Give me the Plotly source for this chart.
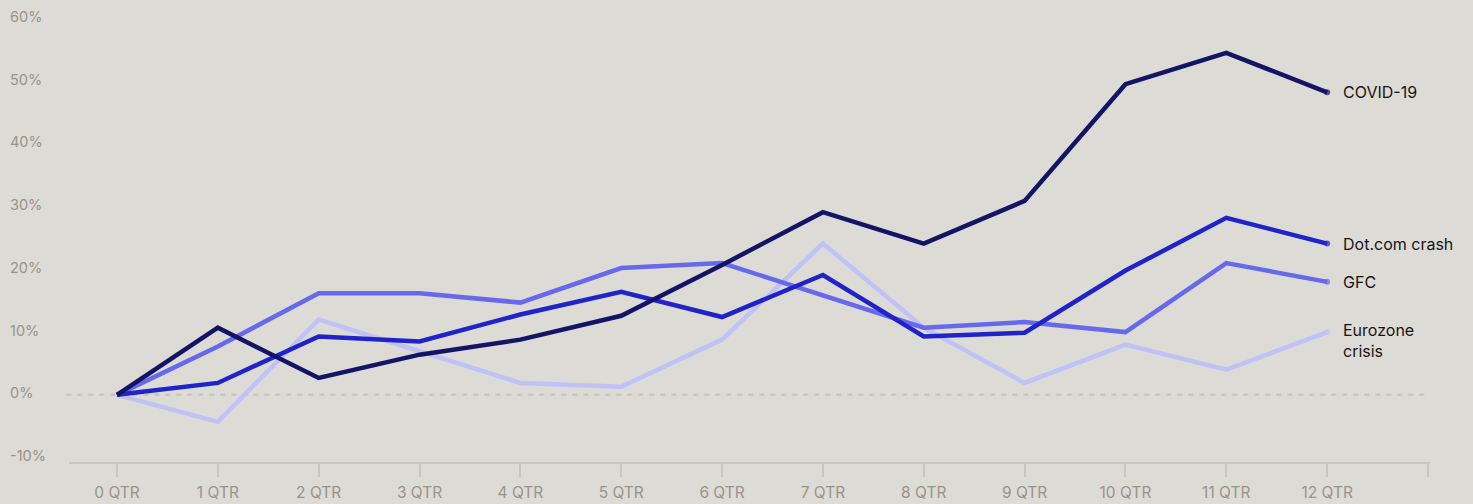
import plotly.graph_objects as go

# Cumulative return after each quarter following a market crisis (%)
quarters = list(range(13))
quarter_labels = [f"{q} QTR" for q in quarters]

covid = [0, 10.7, 2.7, 6.4, 8.8, 12.6, 20.7, 29.1, 24.1, 30.9, 49.5, 54.5, 48.2]
dotcom = [0, 1.9, 9.3, 8.5, 12.8, 16.4, 12.4, 19.1, 9.3, 9.9, 19.8, 28.2, 24.1]
gfc = [0, 7.7, 16.2, 16.2, 14.7, 20.2, 21.0, 15.9, 10.7, 11.6, 10.0, 21.0, 18.0]
eurozone = [0, -4.3, 12.0, 6.9, 1.9, 1.3, 8.8, 24.1, 10.7, 1.9, 8.0, 4.0, 10.0]

series_names = ["Eurozone<br>crisis", "GFC", "Dot.com crash", "COVID-19"]
series_values = [eurozone, gfc, dotcom, covid]
series_colors = ["#bfc1f7", "#6669ec", "#1f23c8", "#131466"]

y_ticks = [-10, 0, 10, 20, 30, 40, 50, 60]

BG = "#dcdbd6"
AXIS = "#c9c6be"
MUTED = "#9a938a"
INK = "#1b1313"
FONT = "Inter"

fig = go.Figure()

for name, vals, color in zip(series_names, series_values, series_colors):
    end_size = [0] * (len(vals) - 1) + [6]
    fig.add_trace(go.Scatter(
        x=quarters, y=vals, mode="lines+markers",
        line=dict(color=color, width=4.5),
        marker=dict(size=end_size, color=color, line=dict(width=0)),
        hoverinfo="skip", showlegend=False,
    ))
    label_y = vals[-1]
    is_two_line = "<br>" in name
    fig.add_annotation(
        x=quarters[-1], y=label_y, xref="x", yref="y",
        text=name, showarrow=False, xanchor="left",
        yanchor="top" if is_two_line else "middle",
        xshift=14, yshift=14 if is_two_line else 0,
        align="left",
        font=dict(family=FONT, size=16, color=INK),
    )

# dashed zero line
fig.add_shape(
    type="line", xref="paper", yref="y",
    x0=-0.002, x1=1.0, y0=0, y1=0,
    line=dict(color=AXIS, width=2.5, dash="5px,6px"),
    layer="below",
)

# left-aligned percentage labels
for t in y_ticks:
    fig.add_annotation(
        x=-0.0448, y=t, xref="paper", yref="y",
        text=f"{t}%", showarrow=False, xanchor="left", yanchor="middle",
        yshift=2,
        font=dict(family=FONT, size=14.5, color=MUTED),
    )

fig.update_layout(
    width=1473, height=504,
    margin=dict(l=69, r=43, t=12, b=42, autoexpand=False),
    paper_bgcolor=BG, plot_bgcolor=BG,
    font=dict(family=FONT, size=14, color=MUTED),
    xaxis=dict(
        range=[-0.476, 13.02],
        tickvals=quarters + [13],
        ticktext=quarter_labels + [""],
        showgrid=False, zeroline=False,
        showline=True, linecolor=AXIS, linewidth=2,
        ticks="outside", ticklen=13, tickwidth=2, tickcolor=AXIS,
        ticklabelstandoff=2,
        tickfont=dict(family=FONT, size=15.5, color=MUTED),
        automargin=False,
        fixedrange=True,
    ),
    yaxis=dict(
        range=[-10.7, 61.0],
        showticklabels=False, showgrid=False, zeroline=False,
        showline=False, ticks="",
        automargin=False,
        fixedrange=True,
    ),
)

fig.write_html("out.html")
